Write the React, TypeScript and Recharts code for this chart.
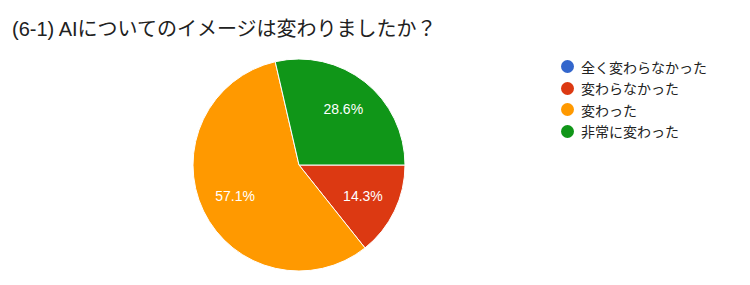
import { PieChart, Pie, Cell, Legend } from 'recharts'

// 回答カテゴリと割合
const categories = ['全く変わらなかった', '変わらなかった', '変わった', '非常に変わった']
const values = [0, 14.3, 57.1, 28.6]
const colors = ['#3366cc', '#dc3912', '#ff9900', '#109618']

const chartData = categories.map((name, i) => ({ name, value: values[i] }))

const FONT = 'Arial, "Liberation Sans", "Noto Sans CJK JP", sans-serif'

const RADIAN = Math.PI / 180

const renderLabel = ({ cx, cy, midAngle, outerRadius, value }: any) => {
  if (!value) return null
  const r = outerRadius * 0.67
  const x = cx + r * Math.cos(-midAngle * RADIAN)
  const y = cy + r * Math.sin(-midAngle * RADIAN)
  return (
    <text
      x={x}
      y={y}
      fill="#ffffff"
      textAnchor="middle"
      dominantBaseline="central"
      fontSize={14}
      fontFamily={FONT}
    >
      {value.toFixed(1)}%
    </text>
  )
}

const CustomLegend = () => (
  <div style={{ fontFamily: FONT, fontSize: 14, color: '#222' }}>
    {categories.map((name, i) => (
      <div key={name} style={{ display: 'flex', alignItems: 'center', height: 21.5 }}>
        <span
          style={{
            width: 13,
            height: 13,
            borderRadius: '50%',
            backgroundColor: colors[i],
            display: 'inline-block',
            marginRight: 7,
          }}
        ></span>
        <span>{name}</span>
      </div>
    ))}
  </div>
)

export default function App() {
  return (
    <div style={{ position: 'absolute', left: 0, top: 0, width: 750, height: 285, background: '#fff' }}>
      <style>{'body{margin:0}'}</style>
      <div
        style={{
          position: 'absolute',
          left: 12,
          top: 13,
          fontFamily: FONT,
          fontSize: 20,
          color: '#212121',
          whiteSpace: 'nowrap',
          zIndex: 1,
        }}
      >
        (6-1) AIについてのイメージは変わりましたか？
      </div>
      <PieChart width={750} height={285} margin={{ top: 0, right: 0, bottom: 0, left: 0 }}>
        <Pie
          data={chartData}
          dataKey="value"
          nameKey="name"
          cx={299}
          cy={165}
          outerRadius={106}
          startAngle={0}
          endAngle={-360}
          stroke="#ffffff"
          strokeWidth={1}
          label={renderLabel}
          labelLine={false}
          isAnimationActive={false}
        >
          {chartData.map((d, i) => (
            <Cell key={d.name} fill={colors[i]} />
          ))}
        </Pie>
        <Legend
          content={<CustomLegend />}
          layout="vertical"
          wrapperStyle={{ position: 'absolute', left: 561, top: 56, width: 185 }}
        />
      </PieChart>
    </div>
  )
}
